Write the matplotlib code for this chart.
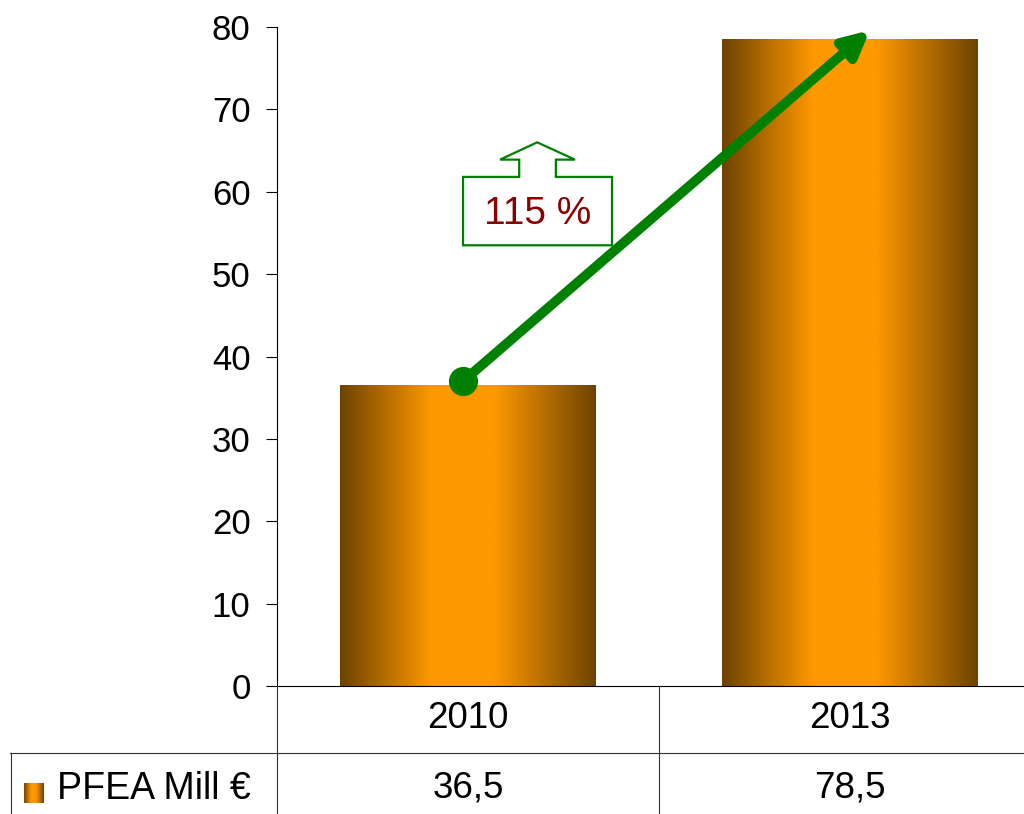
import matplotlib
matplotlib.use('Agg')
import matplotlib.pyplot as plt
import numpy as np
from matplotlib.colors import LinearSegmentedColormap
from matplotlib.patches import Polygon
from matplotlib.lines import Line2D

plt.rcParams['font.family'] = ['Liberation Sans', 'DejaVu Sans']

years = ['2010', '2013']
values = [36.5, 78.5]
value_labels = ['36,5', '78,5']
series_name = 'PFEA Mill €'
growth_label = '115 %'
yticks = [0, 10, 20, 30, 40, 50, 60, 70, 80]

W, H = 1024, 814
fig = plt.figure(figsize=(W / 100, H / 100), dpi=100)
# plot area runs a bit past the right edge of the picture, like the original
ax = fig.add_axes([277 / W, (H - 686) / H, 764 / W, 659 / H])

dark = '#6e4300'
orange = '#ff9900'
cm = LinearSegmentedColormap.from_list('bar', [(0, dark), (0.36, orange), (0.6, orange), (1, dark)])
grad = np.linspace(0, 1, 256).reshape(1, -1)

x = np.arange(len(years))
bars = ax.bar(x, values, width=0.67, color='none', edgecolor='none')
for b in bars:
    x0, w, h = b.get_x(), b.get_width(), b.get_height()
    ax.imshow(grad, extent=(x0, x0 + w, 0, h), aspect='auto', cmap=cm, zorder=2, interpolation='bicubic')

ax.set_xlim(-0.5, 1.5)
ax.set_ylim(0, 80)
ax.set_yticks(yticks)
ax.tick_params(axis='y', labelsize=25, length=8, width=0.8, pad=11)
ax.set_xticks([])
ax.spines['top'].set_visible(False)
ax.spines['right'].set_visible(False)
for s in ['left', 'bottom']:
    ax.spines[s].set_linewidth(0.8)

green = '#008000'
# growth arrow
start = (-0.013, values[0] + 0.5)
tip = (1.052, values[1] + 1.1)
ax.annotate('', xy=tip, xytext=start,
            arrowprops=dict(arrowstyle='-|>', lw=7, color=green, mutation_scale=38,
                            shrinkA=0, shrinkB=0), zorder=4)
ax.plot(*start, 'o', ms=20, color=green, zorder=5)

# up-arrow callout box
callout = [(-0.013, 53.5), (0.377, 53.5), (0.377, 61.8), (0.230, 61.8), (0.230, 63.9),
           (0.280, 63.9), (0.181, 66.0), (0.084, 63.9), (0.134, 63.9), (0.134, 61.8),
           (-0.013, 61.8)]
ax.add_patch(Polygon(callout, closed=True, facecolor='white', edgecolor=green, lw=1.6, zorder=3))
ax.text(0.182, 57.3, growth_label, ha='center', va='center', fontsize=28, color='#8b0000', zorder=6)

# data table below the plot
def fx(px):
    return px / W

def fy(py):
    return (H - py) / H

lc = '#333333'
fig.add_artist(Line2D([fx(10), fx(1024)], [fy(753), fy(753)], color=lc, lw=0.8))
fig.add_artist(Line2D([fx(277), fx(277)], [fy(686), fy(814)], color=lc, lw=0.8))
fig.add_artist(Line2D([fx(659), fx(659)], [fy(686), fy(814)], color=lc, lw=0.8))
fig.add_artist(Line2D([fx(11), fx(11)], [fy(753), fy(814)], color=lc, lw=0.8))

for i, (yr, lab) in enumerate(zip(years, value_labels)):
    xc = ax.transData.transform((x[i], 0))[0] / W
    fig.text(xc, fy(718), yr, ha='center', va='center', fontsize=26.5)
    fig.text(xc, fy(788), lab, ha='center', va='center', fontsize=26.5)

fig.text(fx(57), fy(789), series_name, ha='left', va='center', fontsize=27)
lax = fig.add_axes([fx(24), fy(803), 20 / W, 20 / H])
lax.imshow(grad, aspect='auto', cmap=cm, interpolation='bicubic')
lax.axis('off')

fig.savefig('out.png', dpi=100)
